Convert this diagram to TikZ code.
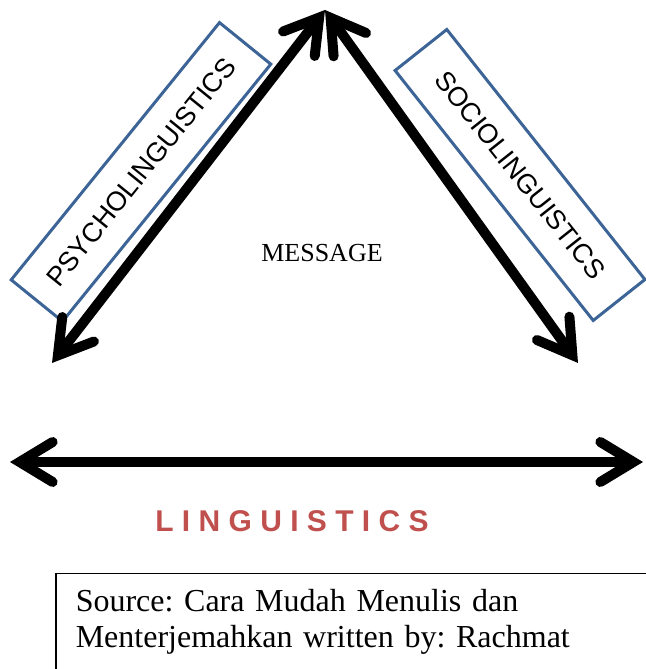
\documentclass[tikz,border=0pt]{standalone}
\usepackage{fontspec}
\setmainfont{Liberation Serif}
\setsansfont{Liberation Sans}
\usetikzlibrary{arrows.meta}
\definecolor{fieldblue}{HTML}{3C6496}
\definecolor{lingred}{HTML}{C0504D}

\begin{document}
\frenchspacing
\begin{tikzpicture}[x=1pt,y=1pt,
  arr/.style={line width=10pt,
    {Straight Barb[length=33pt,width=40pt,line cap=round,line join=miter]}-{Straight Barb[length=33pt,width=40pt,line cap=round,line join=miter]}},
  field/.style={draw=fieldblue,line width=3pt,minimum height=66pt,inner sep=0pt,
    font=\sffamily\fontsize{27}{30}\selectfont}]
  \useasboundingbox (0,0) rectangle (645,669);
  \coordinate (0) at (325,659);
  \coordinate (1) at (52,306);
  \coordinate (2) at (578,306);
  \coordinate (3) at (10,207);
  \coordinate (4) at (643,207);
  \node[field,minimum width=331pt,rotate=51] (5) at (141,497) {PSYCHOLINGUISTICS};
  \node[field,minimum width=319pt,rotate=-51.6] (6) at (520,494) {SOCIOLINGUISTICS};
  \draw[arr] (1)--(0);
  \draw[arr] (0)--(2);
  \draw[arr] (3)--(4);
  \node[font=\fontsize{26}{30}\selectfont] (7) at (322,416) {MESSAGE};
  \node[font=\sffamily\bfseries\fontsize{30}{34}\selectfont,text=lingred] (8) at (292,148) {L I N G U I S T I C S};
  \node[draw,line width=1.5pt,anchor=north west,text width=560pt,inner xsep=20pt,inner ysep=16pt,
    align=left,font=\fontsize{32}{36}\selectfont] (9) at (55,96)
    {Source: Cara Mudah Menulis dan\\Menterjemahkan written by: Rachmat};
\end{tikzpicture}
\end{document}
